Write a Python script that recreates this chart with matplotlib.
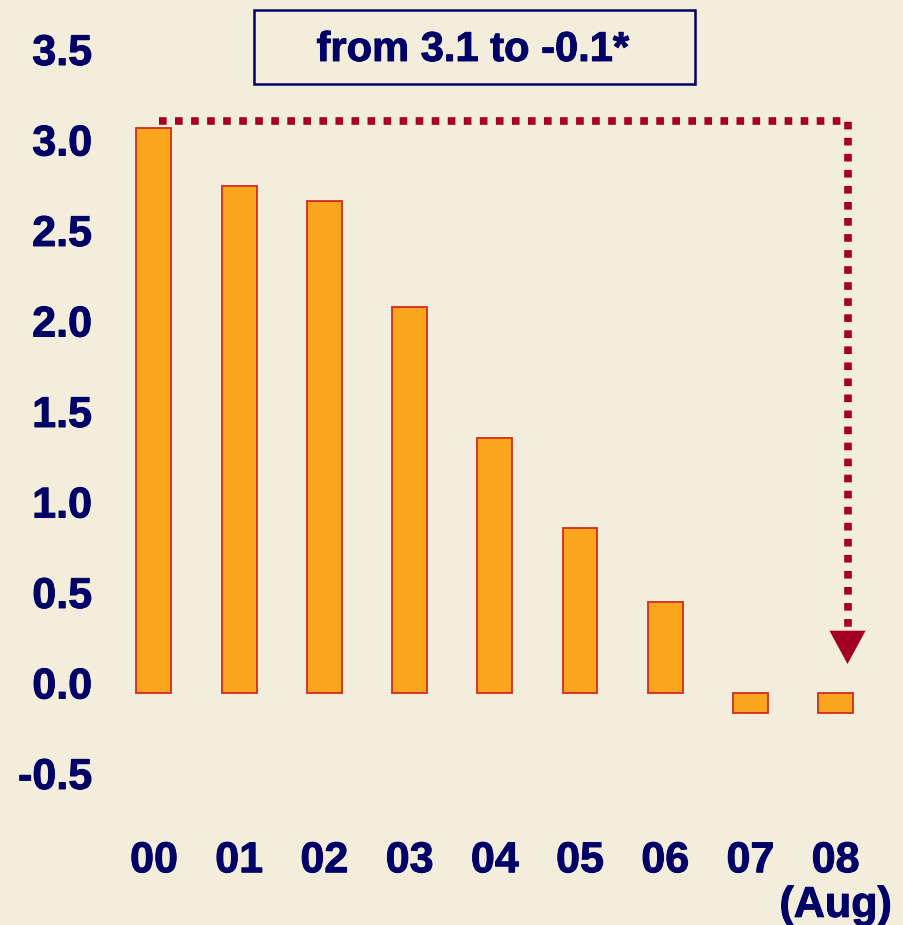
import matplotlib.pyplot as plt
import matplotlib.patheffects as pe
from matplotlib.transforms import ScaledTranslation

# Data
years = ['00', '01', '02', '03', '04', '05', '06', '07', '08\n(Aug)']
values = [3.12, 2.80, 2.72, 2.13, 1.41, 0.91, 0.50, -0.11, -0.11]
y_ticks = [-0.5, 0.0, 0.5, 1.0, 1.5, 2.0, 2.5, 3.0, 3.5]
box_text = 'from 3.1 to -0.1*'

# Colours
NAVY = '#000066'
BAR_ORANGE = '#F9A61E'
BAR_EDGE = '#D42A1E'
ARROW_RED = '#A50021'
BACKGROUND = '#F3EEDC'

plt.rcParams['font.family'] = ['Liberation Sans', 'DejaVu Sans']
plt.rcParams['font.weight'] = 'bold'

# Slightly heavier strokes so the text looks like the bold Arial of the original
heavy = [pe.Stroke(linewidth=0.7, foreground=NAVY), pe.Normal()]

fig = plt.figure(figsize=(9.04, 9.25), dpi=100, facecolor=BACKGROUND)
ax = fig.add_axes([0.0949, 0.1041, 0.8954, 0.8805])
ax.set_facecolor('none')

x = list(range(len(years)))
ax.bar(x, values, width=0.41, color=BAR_ORANGE, edgecolor=BAR_EDGE, linewidth=1.3)

ax.set_xlim(-0.8, 8.7)
ax.set_ylim(-0.75, 3.75)

# Ticks: no tick marks, bold navy labels
ax.set_yticks(y_ticks)
ax.set_yticklabels([f'{v:.1f}' for v in y_ticks])
ax.set_xticks(x)
ax.set_xticklabels(years)
ax.tick_params(axis='y', length=0, pad=-4.5, labelsize=31, labelcolor=NAVY)
ax.tick_params(axis='x', length=0, pad=9, labelsize=31, labelcolor=NAVY)

# y labels sit a little above their gridline value in the original
lift = ScaledTranslation(0, 10 / 100, fig.dpi_scale_trans)
for tick in ax.yaxis.get_major_ticks():
    tick.label1.set_transform(tick.label1.get_transform() + lift)
for lbl in ax.get_yticklabels():
    lbl.set_fontweight('bold')
    lbl.set_path_effects(heavy)
for lbl in ax.get_xticklabels():
    lbl.set_fontweight('bold')
    lbl.set_linespacing(1.15)
    lbl.set_path_effects(heavy)

for side in ['top', 'right', 'bottom', 'left']:
    ax.spines[side].set_visible(False)

# Dotted connector from the 2000 bar to the latest bar, ending in an arrow
x_start = x[0] + 0.06
x_end = x[-1] + 0.14
y_top = values[0] + 0.04
y_tip = 0.16
ax.plot([x_start, x_end, x_end], [y_top, y_top, y_tip + 0.2],
        color=ARROW_RED, linewidth=5.5, linestyle=(0, (1.0, 1.1)),
        solid_capstyle='butt', dash_capstyle='butt', clip_on=False)
ax.annotate('', xy=(x_end, y_tip), xytext=(x_end, y_tip + 0.2),
            arrowprops=dict(arrowstyle='-|>,head_length=2.4,head_width=1.3',
                            color=ARROW_RED, lw=0, shrinkA=0, shrinkB=0))

# Headline box
fig.text(0.523, 0.946, box_text, ha='center', va='center', fontsize=30,
         fontweight='bold', color=NAVY, path_effects=heavy)
box = plt.Rectangle((254 / 904, 1 - 84 / 925), (695 - 254) / 904, 74 / 925,
                    transform=fig.transFigure, fill=False,
                    edgecolor=NAVY, linewidth=1.8)
fig.add_artist(box)

plt.savefig('out.png', dpi=100, facecolor=BACKGROUND)
plt.close()
print("Saved: out.png")
